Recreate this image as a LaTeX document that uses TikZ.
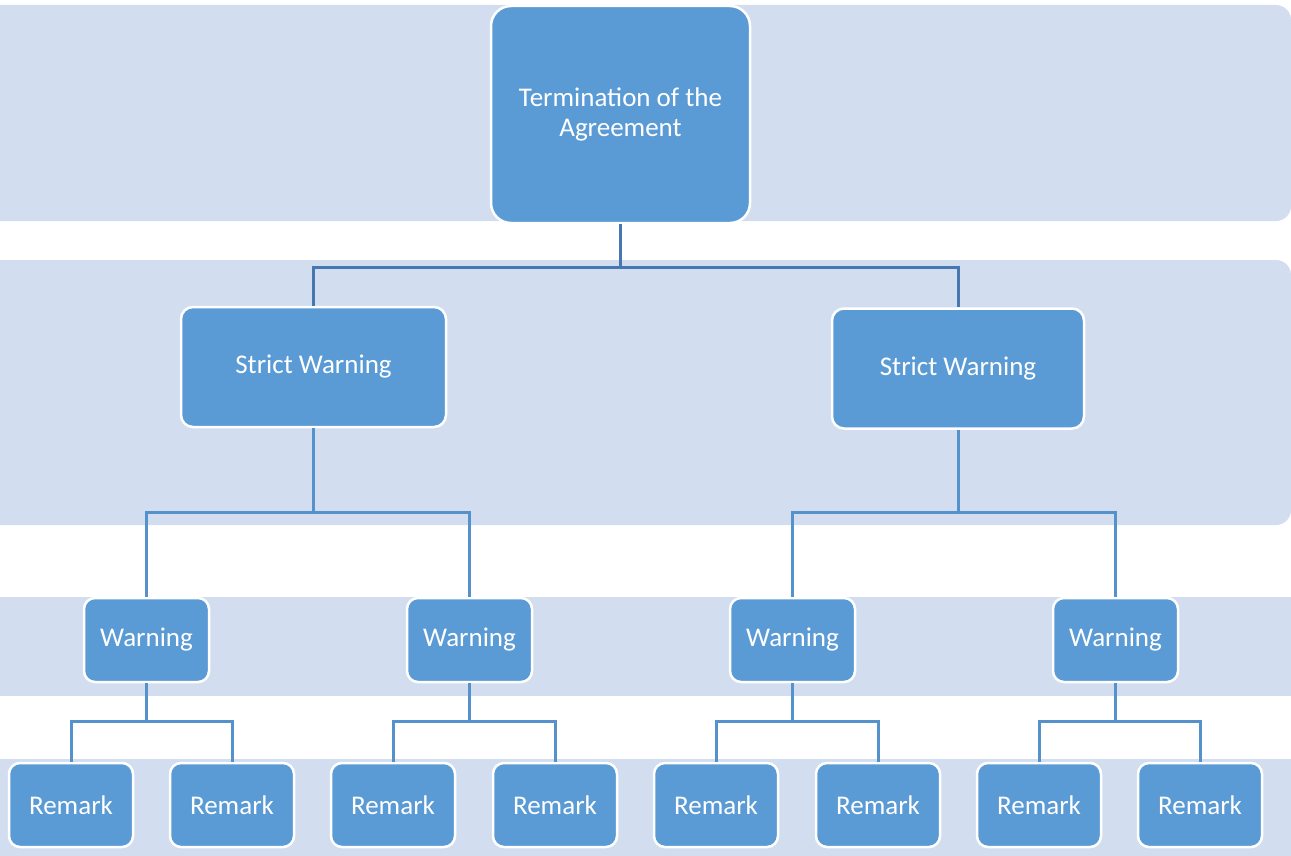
\documentclass[tikz,border=0pt]{standalone}
\usepackage{fontspec}
\setmainfont{Carlito}
\definecolor{bandc}{HTML}{D2DEEF}
\definecolor{boxc}{HTML}{5B9BD5}
\definecolor{conntop}{HTML}{4677B0}
\definecolor{connlow}{HTML}{5592CC}
\begin{document}
\begin{tikzpicture}[x=1pt,y=1pt,
  band/.style={fill=bandc},
  orgbox/.style={rounded corners=11pt, fill=boxc, draw=white, line width=2.5pt, text=white,
    font=\fontsize{27}{30}\selectfont, align=center, inner sep=0pt},
  topbox/.style={orgbox, rounded corners=20pt, minimum width=259pt, minimum height=217pt},
  strictbox/.style={orgbox, rounded corners=12pt, minimum height=120pt},
  warnbox/.style={orgbox, minimum width=125pt, minimum height=84pt},
  remarkbox/.style={orgbox, minimum width=124pt, minimum height=84pt},
  connA/.style={draw=conntop, line width=3pt},
  connB/.style={draw=connlow, line width=3pt}]
\useasboundingbox (0,0) rectangle (1291,-856);
\begin{scope}
\clip (0,0) rectangle (1291,-856);
% bands
\fill[band, rounded corners=15pt] (-40,-5) rectangle (1291,-221);
\fill[band, rounded corners=15pt] (-40,-260) rectangle (1291,-525);
\fill[band] (-40,-597) rectangle (1291,-696);
\fill[band] (-40,-759) rectangle (1291,-880);
\end{scope}
% nodes
\node[topbox] (top) at (620.5,-114.5) {\raisebox{-2pt}{\parbox{240pt}{\centering Termination of the\\Agreement}}};
\node[strictbox, minimum width=265pt] (sl) at (313.5,-367) {Strict Warning};
\node[strictbox, minimum width=252pt] (sr) at (958,-368.5) {Strict Warning};
\node[warnbox] (w1) at (146.5,-640) {Warning};
\node[warnbox] (w2) at (469.5,-640) {Warning};
\node[warnbox] (w3) at (792.5,-640) {Warning};
\node[warnbox] (w4) at (1115.5,-640) {Warning};
\node[remarkbox] (r1) at (71,-805) {Remark};
\node[remarkbox] (r2) at (232,-805) {Remark};
\node[remarkbox] (r3) at (393,-805) {Remark};
\node[remarkbox] (r4) at (555,-805) {Remark};
\node[remarkbox] (r5) at (716,-805) {Remark};
\node[remarkbox] (r6) at (878,-805) {Remark};
\node[remarkbox] (r7) at (1039,-805) {Remark};
\node[remarkbox] (r8) at (1200,-805) {Remark};
% connectors
\draw[connA] (top.south) -- (top.south |- 0,-267) -| (sl.north);
\draw[connA] (top.south) -- (top.south |- 0,-267) -| (sr.north);
\draw[connB] (sl.south) -- (sl.south |- 0,-512) -| (w1.north);
\draw[connB] (sl.south) -- (sl.south |- 0,-512) -| (w2.north);
\draw[connB] (sr.south) -- (sr.south |- 0,-512) -| (w3.north);
\draw[connB] (sr.south) -- (sr.south |- 0,-512) -| (w4.north);
\draw[connB] (w1.south) -- (w1.south |- 0,-721) -| (r1.north);
\draw[connB] (w1.south) -- (w1.south |- 0,-721) -| (r2.north);
\draw[connB] (w2.south) -- (w2.south |- 0,-721) -| (r3.north);
\draw[connB] (w2.south) -- (w2.south |- 0,-721) -| (r4.north);
\draw[connB] (w3.south) -- (w3.south |- 0,-721) -| (r5.north);
\draw[connB] (w3.south) -- (w3.south |- 0,-721) -| (r6.north);
\draw[connB] (w4.south) -- (w4.south |- 0,-721) -| (r7.north);
\draw[connB] (w4.south) -- (w4.south |- 0,-721) -| (r8.north);
\end{tikzpicture}
\end{document}
